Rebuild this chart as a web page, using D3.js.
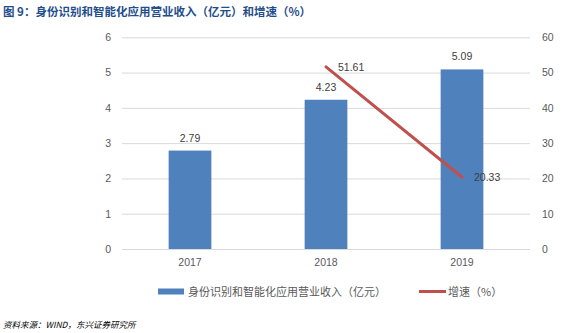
<!DOCTYPE html>
<html><head><meta charset="utf-8">
<script src="https://cdn.jsdelivr.net/npm/d3@7"></script>
<style>
html,body{margin:0;padding:0;background:#fff;}
svg{display:block;font-family:"Noto Sans CJK SC","Liberation Sans",sans-serif;}
</style></head>
<body>
<svg id="c" width="579" height="333"></svg>
<script>
const categories = ["2017","2018","2019"];
const revenue = [2.79, 4.23, 5.09];
const growth = [null, 51.61, 20.33];
const leftTicks = [0,1,2,3,4,5,6];
const rightTicks = [0,10,20,30,40,50,60];
const titleText = "图 9：身份识别和智能化应用营业收入（亿元）和增速（%）";
const sourceText = "资料来源：WIND，东兴证券研究所";
const legendLabels = ["身份识别和智能化应用营业收入（亿元）", "增速（%）"];

const svg = d3.select("#c");
const M = {left:122, right:530, top:37.3, bottom:249};
const x = d3.scaleBand().domain(categories).range([M.left, M.right]).paddingInner(0.686).paddingOuter(0.343);
const yL = d3.scaleLinear().domain([0,6]).range([M.bottom, M.top]);
const yR = d3.scaleLinear().domain([0,60]).range([M.bottom, M.top]);
const textCol = "#595959";

// title
svg.append("text").attr("x",3).attr("y",16).attr("fill","#1F4E8C")
  .attr("font-size",11.5).attr("font-weight","bold").text(titleText);

// gridlines
svg.append("g").selectAll("line").data(leftTicks).join("line")
  .attr("x1",M.left).attr("x2",M.right)
  .attr("y1",d=>yL(d)+0.5).attr("y2",d=>yL(d)+0.5)
  .attr("stroke","#D9D9D9").attr("stroke-width",1);

// left axis
const gl = svg.append("g").attr("transform",`translate(${M.left-11},0)`)
  .call(d3.axisLeft(yL).tickValues(leftTicks).tickFormat(d3.format("d")).tickSize(0).tickPadding(0));
gl.select(".domain").remove();
gl.selectAll("text").attr("fill",textCol).attr("font-size",10.5).attr("font-family","Liberation Sans, sans-serif");

// right axis
const gr = svg.append("g").attr("transform",`translate(${M.right+12},0)`)
  .call(d3.axisRight(yR).tickValues(rightTicks).tickFormat(d3.format("d")).tickSize(0).tickPadding(0));
gr.select(".domain").remove();
gr.selectAll("text").attr("fill",textCol).attr("font-size",10.5).attr("font-family","Liberation Sans, sans-serif");

// bottom axis labels
const gb = svg.append("g").attr("transform",`translate(0,${M.bottom+10})`)
  .call(d3.axisBottom(x).tickSize(0).tickPadding(0));
gb.select(".domain").remove();
gb.selectAll("text").attr("fill",textCol).attr("font-size",10.5).attr("font-family","Liberation Sans, sans-serif");

// bars
svg.append("g").selectAll("rect").data(revenue).join("rect")
  .attr("x",(d,i)=>x(categories[i])).attr("width",x.bandwidth())
  .attr("y",d=>yL(d)).attr("height",d=>yL(0)-yL(d)).attr("fill","#4F81BD");

svg.append("g").selectAll("text").data(revenue).join("text")
  .attr("x",(d,i)=>x(categories[i])+x.bandwidth()/2).attr("y",d=>yL(d)-9)
  .attr("text-anchor","middle").attr("fill","#404040").attr("font-size",10.5)
  .attr("font-family","Liberation Sans, sans-serif").text(d=>d.toFixed(2));

// line
const pts = growth.map((g,i)=>({c:categories[i], v:g})).filter(p=>p.v!==null);
const line = d3.line().x(p=>x(p.c)+x.bandwidth()/2).y(p=>yR(p.v));
svg.append("path").datum(pts).attr("d",line).attr("fill","none")
  .attr("stroke","#C0504D").attr("stroke-width",3).attr("stroke-linecap","round");
svg.append("g").selectAll("text").data(pts).join("text")
  .attr("x",p=>x(p.c)+x.bandwidth()/2+12).attr("y",p=>yR(p.v)+4)
  .attr("fill","#404040").attr("font-size",10.5)
  .attr("font-family","Liberation Sans, sans-serif").text(p=>p.v.toFixed(2));

// legend
const lg = svg.append("g");
lg.append("rect").attr("x",158).attr("y",288.5).attr("width",26).attr("height",6).attr("fill","#4F81BD");
lg.append("text").attr("x",188).attr("y",296).attr("fill",textCol).attr("font-size",11).text(legendLabels[0]);
lg.append("line").attr("x1",419).attr("x2",446).attr("y1",291.5).attr("y2",291.5).attr("stroke","#C0504D").attr("stroke-width",3);
lg.append("text").attr("x",448).attr("y",296).attr("fill",textCol).attr("font-size",11).text(legendLabels[1]);

// source
svg.append("text").attr("x",3).attr("y",328).attr("fill","#000").attr("font-size",8.5)
  .attr("font-style","italic").text(sourceText);
</script>
</body></html>
